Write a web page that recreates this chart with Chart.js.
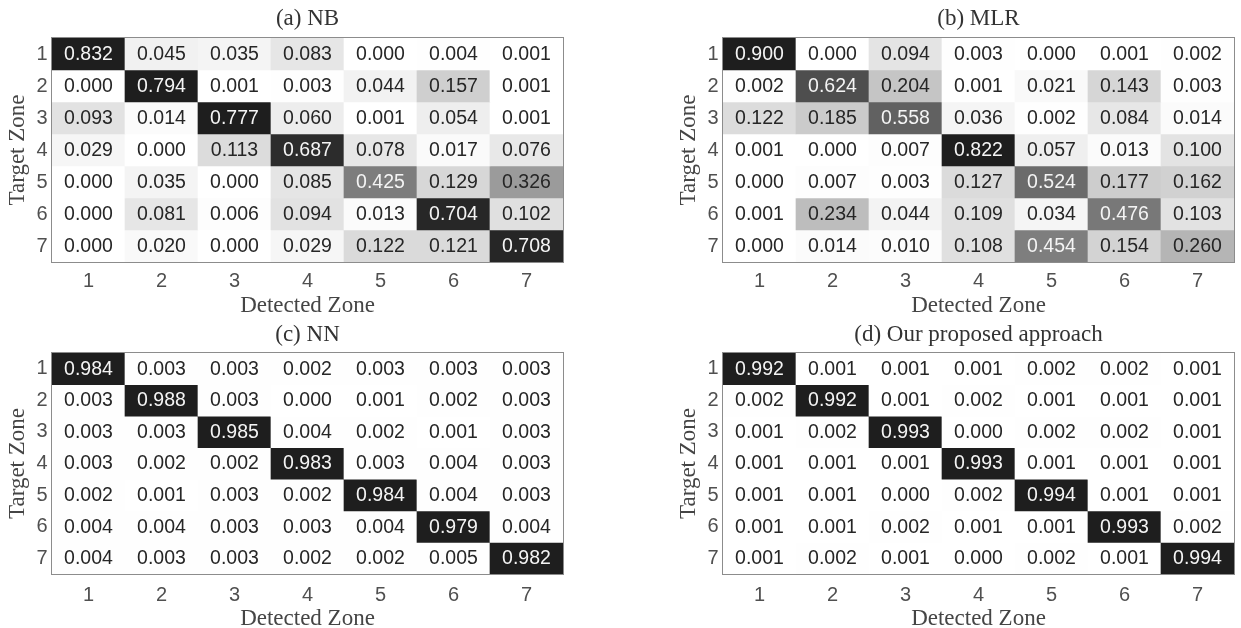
<!DOCTYPE html>
<html><head><meta charset="utf-8">
<script src="https://cdn.jsdelivr.net/npm/chart.js@4.4.1/dist/chart.umd.min.js"></script>
<style>
html,body{margin:0;padding:0;background:#fff;overflow:hidden;width:1241px;height:628px}
canvas{position:absolute}
</style></head><body>
<canvas id="c0" width="620" height="314" style="left:0;top:0"></canvas>
<canvas id="c1" width="621" height="314" style="left:620px;top:0"></canvas>
<canvas id="c2" width="620" height="314" style="left:0;top:314px"></canvas>
<canvas id="c3" width="621" height="314" style="left:620px;top:314px"></canvas>
<script>
// ---- data ----
const detectedZones = ['1', '2', '3', '4', '5', '6', '7'];
const targetZones = ['1', '2', '3', '4', '5', '6', '7'];
const panelTitles = ['(a) NB', '(b) MLR', '(c) NN', '(d) Our proposed approach'];
const xAxisTitle = 'Detected Zone';
const yAxisTitle = 'Target Zone';

const nbValues = [
  [0.832, 0.045, 0.035, 0.083, 0.000, 0.004, 0.001],
  [0.000, 0.794, 0.001, 0.003, 0.044, 0.157, 0.001],
  [0.093, 0.014, 0.777, 0.060, 0.001, 0.054, 0.001],
  [0.029, 0.000, 0.113, 0.687, 0.078, 0.017, 0.076],
  [0.000, 0.035, 0.000, 0.085, 0.425, 0.129, 0.326],
  [0.000, 0.081, 0.006, 0.094, 0.013, 0.704, 0.102],
  [0.000, 0.020, 0.000, 0.029, 0.122, 0.121, 0.708]
];
const mlrValues = [
  [0.900, 0.000, 0.094, 0.003, 0.000, 0.001, 0.002],
  [0.002, 0.624, 0.204, 0.001, 0.021, 0.143, 0.003],
  [0.122, 0.185, 0.558, 0.036, 0.002, 0.084, 0.014],
  [0.001, 0.000, 0.007, 0.822, 0.057, 0.013, 0.100],
  [0.000, 0.007, 0.003, 0.127, 0.524, 0.177, 0.162],
  [0.001, 0.234, 0.044, 0.109, 0.034, 0.476, 0.103],
  [0.000, 0.014, 0.010, 0.108, 0.454, 0.154, 0.260]
];
const nnValues = [
  [0.984, 0.003, 0.003, 0.002, 0.003, 0.003, 0.003],
  [0.003, 0.988, 0.003, 0.000, 0.001, 0.002, 0.003],
  [0.003, 0.003, 0.985, 0.004, 0.002, 0.001, 0.003],
  [0.003, 0.002, 0.002, 0.983, 0.003, 0.004, 0.003],
  [0.002, 0.001, 0.003, 0.002, 0.984, 0.004, 0.003],
  [0.004, 0.004, 0.003, 0.003, 0.004, 0.979, 0.004],
  [0.004, 0.003, 0.003, 0.002, 0.002, 0.005, 0.982]
];
const oursValues = [
  [0.992, 0.001, 0.001, 0.001, 0.002, 0.002, 0.001],
  [0.002, 0.992, 0.001, 0.002, 0.001, 0.001, 0.001],
  [0.001, 0.002, 0.993, 0.000, 0.002, 0.002, 0.001],
  [0.001, 0.001, 0.001, 0.993, 0.001, 0.001, 0.001],
  [0.001, 0.001, 0.000, 0.002, 0.994, 0.001, 0.001],
  [0.001, 0.001, 0.002, 0.001, 0.001, 0.993, 0.002],
  [0.001, 0.002, 0.001, 0.000, 0.002, 0.001, 0.994]
];

// ---- styling / layout ----
const SANS = '"Liberation Sans", Arial, Helvetica, sans-serif';
const SERIF = '"Liberation Serif", "Times New Roman", serif';
const SERIF_SIZE = 23;

function grayLevel(v, max) {
  return Math.max(30, Math.round(255 * (1 - v / max)));
}

const cellLabels = {
  id: 'cellLabels',
  afterDatasetsDraw(chart) {
    const ctx = chart.ctx;
    ctx.save();
    ctx.font = '19.5px ' + SANS;
    ctx.textAlign = 'center';
    ctx.textBaseline = 'middle';
    chart.data.datasets.forEach((ds, di) => {
      const meta = chart.getDatasetMeta(di);
      meta.data.forEach((el, ci) => {
        const v = ds.cellValues[ci];
        ctx.fillStyle = ds.textColors[ci];
        ctx.fillText(v.toFixed(3), el.x, (el.y + el.base) / 2 + 0.5);
      });
    });
    const a = chart.chartArea;
    ctx.strokeStyle = '#8c8c8c';
    ctx.lineWidth = 1;
    ctx.strokeRect(Math.round(a.left) - 0.5, Math.round(a.top) - 0.5,
                   Math.round(a.right - a.left) + 1, Math.round(a.bottom - a.top) + 1);
    ctx.restore();
  }
};

function makeChart(id, values, title, g) {
  const max = Math.max(...values.flat());
  const datasets = targetZones.map((t, r) => ({
    label: 'Target ' + t,
    data: detectedZones.map(() => [r + 0.5, r + 1.5]),
    cellValues: values[r],
    backgroundColor: values[r].map(v => { const k = grayLevel(v, max); return `rgb(${k},${k},${k})`; }),
    textColors: values[r].map(v => grayLevel(v, max) < 128 ? '#f4f4f4' : '#262626'),
    borderWidth: 0,
    barPercentage: 1,
    categoryPercentage: 1,
    grouped: false
  }));
  return new Chart(document.getElementById(id), {
    type: 'bar',
    data: { labels: detectedZones, datasets },
    options: {
      responsive: false,
      animation: false,
      events: [],
      layout: { padding: { left: g.padLeft, right: g.padRight, top: 0, bottom: 0 } },
      plugins: {
        legend: { display: false },
        tooltip: { enabled: false },
        title: {
          display: true, text: title, fullSize: false, color: '#333333',
          font: { family: SERIF, size: SERIF_SIZE, weight: 'normal', lineHeight: 1.2 },
          padding: { top: g.titleTop, bottom: g.titleBottom }
        }
      },
      scales: {
        x: {
          type: 'category', offset: true,
          grid: { display: false, drawTicks: false },
          border: { display: false },
          ticks: { color: '#505050', font: { family: SANS, size: 20, lineHeight: 1.2 }, padding: g.xTickPad, maxRotation: 0, autoSkip: false },
          title: { display: true, text: xAxisTitle, color: '#454545',
                   font: { family: SERIF, size: SERIF_SIZE, weight: 'normal', lineHeight: 0.7 },
                   padding: { top: 0, bottom: g.xTitlePad } },
          afterFit: s => { s.height = g.xHeight; }
        },
        y: {
          type: 'linear', min: 0.5, max: 7.5, reverse: true,
          grid: { display: false, drawTicks: false },
          border: { display: false },
          afterBuildTicks: s => { s.ticks = targetZones.map((t, i) => ({ value: i + 1 })); },
          ticks: { color: '#505050', font: { family: SANS, size: 20, lineHeight: 1.2 }, padding: g.yTickPad, autoSkip: false,
                   callback: v => targetZones[Math.round(v) - 1] },
          title: { display: true, text: yAxisTitle, color: '#454545',
                   font: { family: SERIF, size: SERIF_SIZE, weight: 'normal', lineHeight: 1.2 },
                   padding: { top: g.yTitlePad, bottom: 0 } },
          afterFit: s => { s.width = g.yWidth; }
        }
      }
    },
    plugins: [cellLabels]
  });
}

const topRow = { titleTop: 5.5, titleBottom: 4.9, xHeight: 52, xTickPad: 7.7, xTitlePad: 0.45, yTickPad: 4.5, yTitlePad: 4.2, yWidth: 52 };
const botRow = { titleTop: 7.2, titleBottom: 4.2, xHeight: 54, xTickPad: 9, xTitlePad: 1.15, yTickPad: 4.5, yTitlePad: 4.2, yWidth: 52 };

makeChart('c0', nbValues, panelTitles[0], Object.assign({ padLeft: 0, padRight: 57 }, topRow));
makeChart('c1', mlrValues, panelTitles[1], Object.assign({ padLeft: 51, padRight: 7 }, topRow));
makeChart('c2', nnValues, panelTitles[2], Object.assign({ padLeft: 0, padRight: 57 }, botRow));
makeChart('c3', oursValues, panelTitles[3], Object.assign({ padLeft: 51, padRight: 7 }, botRow));
</script>
</body></html>
